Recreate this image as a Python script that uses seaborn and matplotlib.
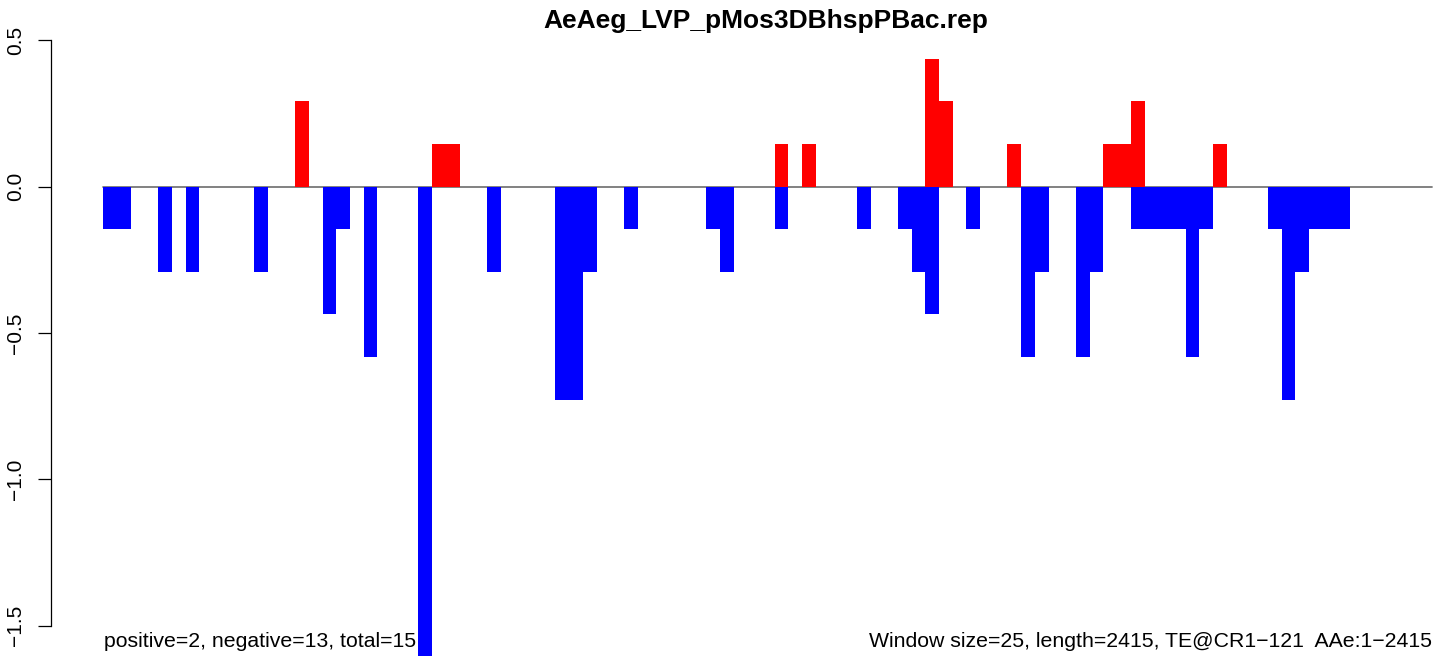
import matplotlib
matplotlib.use("Agg")
import matplotlib.pyplot as plt
import seaborn as sns
import pandas as pd

# ---- data ----
title = "AeAeg_LVP_pMos3DBhspPBac.rep"
left_note = "positive=2, negative=13, total=15"
right_note = "Window size=25, length=2415, TE@CR1\u2212121  AAe:1\u22122415"
n_windows = 97

neg_windows = [0, 1, 4, 6, 11, 16, 17, 19, 23, 28, 33, 34, 35, 38, 44, 45, 49,
               55, 58, 59, 60, 63, 67, 68, 71, 72, 75, 76, 77, 78, 79, 80,
               85, 86, 87, 88, 89, 90]
neg_values = [-0.146, -0.146, -0.292, -0.292, -0.292, -0.437, -0.146, -0.583,
              -1.602, -0.292, -0.729, -0.729, -0.292, -0.146, -0.146, -0.292,
              -0.146, -0.146, -0.146, -0.292, -0.437, -0.146, -0.583, -0.292,
              -0.583, -0.292, -0.146, -0.146, -0.146, -0.146, -0.583, -0.146,
              -0.146, -0.729, -0.292, -0.146, -0.146, -0.146]

pos_windows = [14, 24, 25, 49, 51, 60, 61, 66, 73, 74, 75, 81]
pos_values = [0.292, 0.146, 0.146, 0.146, 0.146, 0.437, 0.292, 0.146,
              0.146, 0.146, 0.292, 0.146]

y_ticks = [-1.5, -1.0, -0.5, 0.0, 0.5]
y_tick_labels = ["\u22121.5", "\u22121.0", "\u22120.5", "0.0", "0.5"]

# ---- frames ----
neg_df = pd.DataFrame({"center": [w + 0.5 for w in neg_windows], "value": neg_values})
pos_df = pd.DataFrame({"center": [w + 0.5 for w in pos_windows], "value": pos_values})

# ---- layout (pixels) ----
W, H = 1444, 656
spine_px = 51
x0_px = 103.3
win_px = 13.7
y0_px = 186.5
unit_px = 292.8

sns.set_style("white")
plt.rcParams["font.family"] = ["Liberation Sans", "DejaVu Sans"]
plt.rcParams["text.color"] = "black"
plt.rcParams["ytick.color"] = "black"
plt.rcParams["ytick.labelcolor"] = "black"

fig = plt.figure(figsize=(W / 100, H / 100), dpi=100)
ax = fig.add_axes([spine_px / W, 0, 1 - spine_px / W, 1])

sns.barplot(data=neg_df, x="center", y="value", native_scale=True, width=1,
            color="#0000FF", saturation=1, errorbar=None, linewidth=0,
            edgecolor="none", ax=ax, zorder=3)
sns.barplot(data=pos_df, x="center", y="value", native_scale=True, width=1,
            color="#FF0000", saturation=1, errorbar=None, linewidth=0,
            edgecolor="none", ax=ax, zorder=3)

sns.lineplot(x=[0, n_windows], y=[0, 0], color="#777777", linewidth=1.3,
             ax=ax, zorder=2)

ax.set_xlim(-(x0_px - spine_px) / win_px, (W - x0_px) / win_px)
ax.set_ylim(-(H - y0_px) / unit_px, y0_px / unit_px)

for s in ["top", "right", "bottom"]:
    ax.spines[s].set_visible(False)
ax.spines["left"].set_bounds(min(y_ticks), max(y_ticks))
ax.spines["left"].set_linewidth(0.9)
ax.spines["left"].set_color("black")

ax.set_xticks([])
ax.set_yticks(y_ticks)
ax.set_yticklabels(y_tick_labels, rotation=90, va="center", fontsize=15,
                   color="black")
ax.tick_params(axis="y", left=True, length=9.4, width=0.9, pad=9,
               colors="black", labelcolor="black")
ax.set_xlabel("")
ax.set_ylabel("")
ax.grid(False)

fig.text(766 / W, 1 - 28 / H, title, ha="center", va="baseline",
         fontsize=19, fontweight="bold", color="black")
fig.text(104 / W, 1 - 647 / H, left_note, ha="left", va="baseline",
         fontsize=15.3, color="black")
fig.text(1432 / W, 1 - 647 / H, right_note, ha="right", va="baseline",
         fontsize=15.3, color="black")

fig.savefig("out.png", dpi=100)
